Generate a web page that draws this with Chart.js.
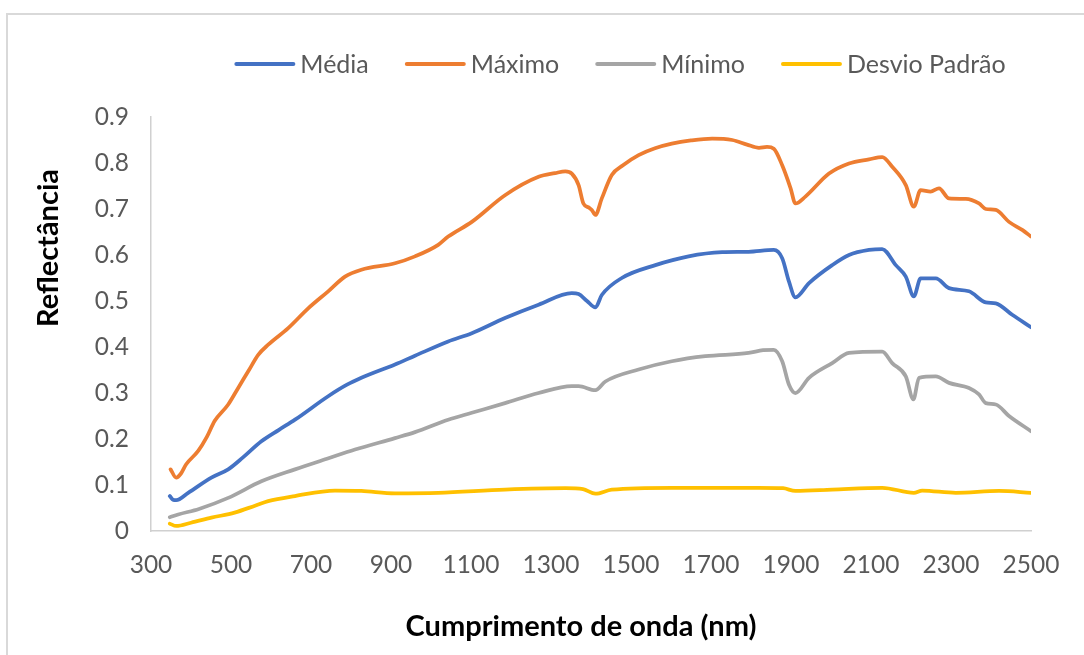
<!DOCTYPE html>
<html>
<head>
<meta charset="utf-8">
<script src="https://cdn.jsdelivr.net/npm/chart.js@4/dist/chart.umd.min.js"></script>
<style>
  html, body { margin: 0; padding: 0; background: #fff; overflow: hidden; }
  #wrap { position: absolute; left: 0; top: 0; width: 1084px; height: 655px; }
  #frame { position: absolute; left: 6px; top: 13px; width: 1100px; height: 700px;
           border-top: 2px solid #d9d9d9; border-left: 2px solid #d9d9d9; }
  canvas { position: absolute; left: 0; top: 0; }
</style>
</head>
<body>
<div id="wrap">
  <div id="frame"></div>
  <canvas id="chart" width="1084" height="655"></canvas>
</div>
<script>
// Spectral reflectance statistics (wavelength in nm, reflectance 0-1)
const mediaNm = [347, 355, 363, 393, 451, 493, 530, 576, 620, 660, 743, 790, 826, 910, 960, 1043, 1102, 1185, 1269, 1352, 1369, 1390, 1411, 1427, 1477, 1561, 1644, 1728, 1794, 1857, 1878, 1895, 1911, 1945, 2003, 2045, 2095, 2128, 2162, 2187, 2207, 2224, 2262, 2295, 2345, 2387, 2412, 2453, 2500];
const mediaVals = [0.076, 0.068, 0.067, 0.083, 0.116, 0.134, 0.160, 0.195, 0.220, 0.242, 0.293, 0.318, 0.333, 0.362, 0.381, 0.412, 0.430, 0.463, 0.492, 0.517, 0.515, 0.500, 0.486, 0.513, 0.550, 0.578, 0.597, 0.606, 0.607, 0.611, 0.593, 0.542, 0.508, 0.539, 0.578, 0.600, 0.611, 0.613, 0.578, 0.553, 0.510, 0.549, 0.549, 0.528, 0.521, 0.497, 0.495, 0.470, 0.443];

const maximoNm = [349, 363, 375, 388, 418, 440, 459, 493, 518, 545, 568, 593, 643, 693, 743, 785, 826, 910, 960, 1018, 1043, 1102, 1185, 1269, 1310, 1336, 1352, 1369, 1381, 1395, 1402, 1411, 1427, 1452, 1480, 1519, 1560, 1602, 1650, 1703, 1753, 1790, 1820, 1840, 1857, 1878, 1899, 1911, 1936, 1995, 2045, 2095, 2128, 2153, 2187, 2207, 2224, 2249, 2270, 2295, 2337, 2370, 2387, 2412, 2445, 2479, 2500];
const maximoVals = [0.134, 0.116, 0.125, 0.145, 0.174, 0.205, 0.239, 0.275, 0.311, 0.350, 0.383, 0.405, 0.441, 0.484, 0.521, 0.553, 0.568, 0.582, 0.597, 0.622, 0.640, 0.672, 0.730, 0.770, 0.778, 0.782, 0.777, 0.752, 0.712, 0.703, 0.698, 0.687, 0.723, 0.774, 0.795, 0.817, 0.832, 0.842, 0.849, 0.853, 0.850, 0.840, 0.833, 0.835, 0.831, 0.795, 0.745, 0.712, 0.727, 0.777, 0.799, 0.808, 0.813, 0.792, 0.752, 0.705, 0.741, 0.738, 0.745, 0.723, 0.722, 0.712, 0.700, 0.698, 0.672, 0.654, 0.640];

const minimoNm = [347, 368, 420, 493, 576, 660, 740, 810, 910, 960, 1043, 1102, 1185, 1269, 1352, 1369, 1411, 1436, 1519, 1602, 1686, 1794, 1830, 1857, 1878, 1895, 1911, 1945, 2003, 2045, 2128, 2153, 2187, 2206, 2220, 2262, 2295, 2345, 2370, 2387, 2412, 2445, 2500];
const minimoVals = [0.030, 0.036, 0.048, 0.072, 0.108, 0.134, 0.157, 0.177, 0.202, 0.215, 0.242, 0.257, 0.278, 0.300, 0.315, 0.315, 0.306, 0.325, 0.351, 0.369, 0.380, 0.387, 0.393, 0.394, 0.369, 0.318, 0.300, 0.333, 0.365, 0.387, 0.390, 0.365, 0.336, 0.286, 0.333, 0.336, 0.322, 0.311, 0.297, 0.278, 0.275, 0.250, 0.217];

const desvioNm = [347, 363, 400, 451, 509, 560, 593, 660, 760, 826, 910, 1018, 1185, 1336, 1380, 1411, 1452, 1602, 1819, 1880, 1911, 2003, 2128, 2207, 2228, 2312, 2420, 2500];
const desvioVals = [0.016, 0.011, 0.018, 0.029, 0.040, 0.055, 0.065, 0.076, 0.088, 0.087, 0.082, 0.083, 0.090, 0.093, 0.091, 0.081, 0.090, 0.094, 0.094, 0.093, 0.087, 0.090, 0.094, 0.083, 0.088, 0.083, 0.087, 0.083];

const seriesNames = ['Média', 'Máximo', 'Mínimo', 'Desvio Padrão'];
const seriesColors = ['#4472C4', '#ED7D31', '#A5A5A5', '#FFC000'];

const xTitle = 'Cumprimento de onda (nm)';
const yTitle = 'Reflectância';
const xMin = 300, xMax = 2500, xStep = 200;
const yMin = 0, yMax = 0.9, yStep = 0.1;

const pairs = (xs, ys) => xs.map((x, i) => ({ x: x, y: ys[i] }));
const seriesData = [
  pairs(mediaNm, mediaVals),
  pairs(maximoNm, maximoVals),
  pairs(minimoNm, minimoVals),
  pairs(desvioNm, desvioVals)
];

// Plot box inside the canvas
const PLOT = { left: 151, right: 1031, top: 117, bottom: 531 };
const W = 1084, H = 655;
const FONT = 'Lato, "Open Sans", sans-serif';

// Legend row and axis titles drawn on the canvas
const decorations = {
  id: 'decorations',
  afterDraw(chart) {
    const ctx = chart.ctx;
    ctx.save();

    // legend
    ctx.font = '25px ' + FONT;
    const lineLen = 61, gapText = 5, gapItem = 36, legendY = 64;
    const widths = chart.data.datasets.map(ds => lineLen + gapText + ctx.measureText(ds.label).width);
    const total = widths.reduce((a, b) => a + b, 0) + gapItem * (widths.length - 1);
    let x = 620 - total / 2;
    chart.data.datasets.forEach((ds, i) => {
      ctx.strokeStyle = ds.borderColor;
      ctx.lineWidth = 4;
      ctx.lineCap = 'round';
      ctx.beginPath();
      ctx.moveTo(x + 2, legendY);
      ctx.lineTo(x + lineLen - 2, legendY);
      ctx.stroke();
      ctx.fillStyle = '#595959';
      ctx.textBaseline = 'middle';
      ctx.textAlign = 'left';
      ctx.fillText(ds.label, x + lineLen + gapText, legendY + 1);
      x += widths[i] + gapItem;
    });

    // axis titles
    ctx.fillStyle = '#000';
    ctx.font = 'bold 29px ' + FONT;
    ctx.textAlign = 'center';
    ctx.textBaseline = 'middle';
    ctx.fillText(xTitle, 581, 627);

    ctx.translate(49, 248);
    ctx.rotate(-Math.PI / 2);
    ctx.fillText(yTitle, 0, 0);
    ctx.restore();
  }
};

new Chart(document.getElementById('chart'), {
  type: 'line',
  data: {
    datasets: seriesNames.map((name, i) => ({
      label: name,
      data: seriesData[i],
      borderColor: seriesColors[i],
      backgroundColor: seriesColors[i],
      borderWidth: 3.75,
      pointRadius: 0,
      fill: false,
      cubicInterpolationMode: 'monotone',
      borderCapStyle: 'round',
      borderJoinStyle: 'round'
    }))
  },
  options: {
    responsive: false,
    animation: false,
    layout: { padding: { top: PLOT.top, right: W - PLOT.right, bottom: 0, left: 0 } },
    plugins: { legend: { display: false }, tooltip: { enabled: false }, title: { display: false } },
    scales: {
      x: {
        type: 'linear',
        min: xMin, max: xMax,
        grid: { display: false, drawTicks: false },
        border: { display: true, color: '#d0d0d0', width: 1.5 },
        ticks: {
          stepSize: xStep,
          autoSkip: false,
          maxRotation: 0,
          padding: 19,
          color: '#595959',
          font: { family: FONT, size: 24.5 },
          callback: v => String(v)
        },
        afterFit(scale) { scale.height = H - PLOT.bottom; }
      },
      y: {
        min: yMin, max: yMax,
        grid: { display: false, drawTicks: false },
        border: { display: true, color: '#d0d0d0', width: 1.5 },
        ticks: {
          stepSize: yStep,
          padding: 22,
          color: '#595959',
          font: { family: FONT, size: 24.5 },
          callback: v => (v === 0 ? '0' : v.toFixed(1))
        },
        afterFit(scale) { scale.width = PLOT.left; }
      }
    }
  },
  plugins: [decorations]
});
</script>
</body>
</html>
